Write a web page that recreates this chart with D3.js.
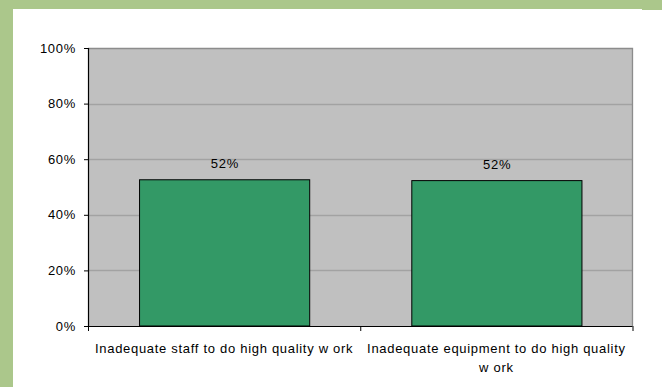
<!DOCTYPE html>
<html>
<head>
<meta charset="utf-8">
<script src="https://cdn.jsdelivr.net/npm/d3@7"></script>
<style>
  html, body { margin: 0; padding: 0; background: #ffffff; }
  svg { display: block; font-family: "Liberation Sans", Arial, sans-serif; }
  svg text { letter-spacing: 0.7px; }
</style>
</head>
<body>
<svg id="chart" width="662" height="387"></svg>
<script>
// Category labels (already split into display lines) and bar values
const categories = [
  ["Inadequate staff to do high quality w ork"],
  ["Inadequate equipment to do high quality", "w ork"]
];
const values = [0.526, 0.523];
const valueLabels = ["52%", "52%"];
const yTicks = [0, 0.2, 0.4, 0.6, 0.8, 1.0];

const svg = d3.select("#chart");
const W = 662, H = 387;
const FS = 13;

// Decorative frame: band across the top and down the left side
svg.append("rect").attr("x", 0).attr("y", 0).attr("width", W).attr("height", 9).attr("fill", "#abc78b");
svg.append("rect").attr("x", 642).attr("y", 0).attr("width", 20).attr("height", 10).attr("fill", "#abc78b");
svg.append("rect").attr("x", 0).attr("y", 0).attr("width", 13).attr("height", H).attr("fill", "#abc78b");

const plot = { left: 88, right: 632.5, top: 48, bottom: 326 };

const x = d3.scaleBand()
  .domain(d3.range(categories.length))
  .range([plot.left, plot.right])
  .paddingInner(0.375)
  .paddingOuter(0.1875);

const xCat = d3.scaleBand()
  .domain(d3.range(categories.length))
  .range([plot.left, plot.right]);

const y = d3.scaleLinear().domain([0, 1]).range([plot.bottom, plot.top]);

// Plot background
svg.append("rect")
  .attr("x", plot.left).attr("y", plot.top)
  .attr("width", plot.right - plot.left).attr("height", plot.bottom - plot.top)
  .attr("fill", "#c0c0c0");

// Horizontal gridlines
svg.append("g").selectAll("line")
  .data(yTicks.filter(d => d > 0 && d < 1))
  .join("line")
  .attr("x1", plot.left).attr("x2", plot.right)
  .attr("y1", d => Math.round(y(d)) + 0.5).attr("y2", d => Math.round(y(d)) + 0.5)
  .attr("stroke", "#a2a2a2").attr("stroke-width", 1.5);

// Plot border (top and right)
svg.append("path")
  .attr("d", `M${plot.left},${plot.top + 0.5}H${plot.right}V${plot.bottom}`)
  .attr("fill", "none").attr("stroke", "#8c8c8c").attr("stroke-width", 1.3);

// Bars
svg.append("g").selectAll("rect")
  .data(values)
  .join("rect")
  .attr("x", (d, i) => x(i) + 0.5)
  .attr("y", d => y(d))
  .attr("width", x.bandwidth())
  .attr("height", d => plot.bottom - y(d))
  .attr("fill", "#339966")
  .attr("stroke", "#000000").attr("stroke-width", 1);

// Value labels
svg.append("g").selectAll("text")
  .data(values)
  .join("text")
  .attr("x", (d, i) => x(i) + x.bandwidth() / 2 + 0.8)
  .attr("y", d => y(d) - 12)
  .attr("text-anchor", "middle")
  .attr("font-size", FS)
  .attr("fill", "#000")
  .text((d, i) => valueLabels[i]);

// Y axis
const yAxis = d3.axisLeft(y)
  .tickValues(yTicks)
  .tickFormat(d3.format(".0%"))
  .tickSize(4)
  .tickPadding(8);
const gy = svg.append("g").attr("transform", `translate(${plot.left},0)`).call(yAxis);
gy.select(".domain").attr("stroke", "#000").attr("stroke-width", 1.2);
gy.selectAll(".tick line").attr("stroke", "#000");
gy.selectAll(".tick text").attr("font-size", FS).attr("font-family", "Liberation Sans, Arial, sans-serif").attr("fill", "#000");

// X axis line and category boundary ticks
svg.append("line")
  .attr("x1", plot.left - 4).attr("x2", plot.right)
  .attr("y1", plot.bottom + 0.5).attr("y2", plot.bottom + 0.5)
  .attr("stroke", "#000").attr("stroke-width", 1.2);
const boundaries = d3.range(categories.length + 1).map(i => i < categories.length ? xCat(i) : xCat(i - 1) + xCat.bandwidth());
svg.append("g").selectAll("line")
  .data(boundaries)
  .join("line")
  .attr("x1", d => d + 0.5).attr("x2", d => d + 0.5)
  .attr("y1", plot.bottom).attr("y2", plot.bottom + 5)
  .attr("stroke", "#000");

// Category labels
const catG = svg.append("g").selectAll("text")
  .data(categories)
  .join("text")
  .attr("x", (d, i) => xCat(i) + xCat.bandwidth() / 2)
  .attr("y", 353)
  .attr("text-anchor", "middle")
  .attr("font-size", FS)
  .attr("fill", "#000");
catG.selectAll("tspan")
  .data(d => d)
  .join("tspan")
  .attr("x", function () { return this.parentNode.getAttribute("x"); })
  .attr("dy", (d, i) => i === 0 ? 0 : 19)
  .text(d => d);
</script>
</body>
</html>
